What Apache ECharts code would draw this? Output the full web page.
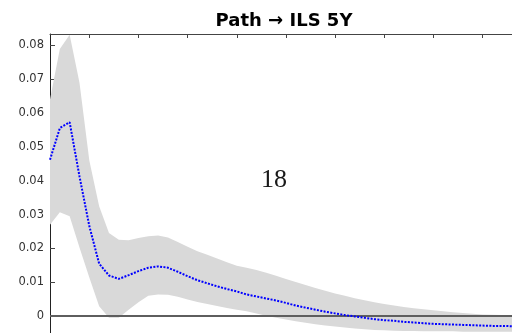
<!DOCTYPE html>
<html>
<head>
<meta charset="utf-8">
<script src="https://cdn.jsdelivr.net/npm/echarts@6/dist/echarts.min.js"></script>
<style>
  html, body { margin: 0; padding: 0; background: #fff; }
  #chart { width: 512px; height: 333px; }
</style>
</head>
<body>
<div id="chart"></div>
<script>
// Impulse response of ILS 5Y to a path shock, with its confidence band
const horizon = [1,2,3,4,5,6,7,8,9,10,11,12,13,14,15,16,17,18,19,20,21,22,23,24,
                 25,26,27,28,29,30,31,32,33,34,35,36,37,38,39,40,41,42,43,44,45,46,47,48];
const response = [0.0462,0.0556,0.0573,0.0413,0.0266,0.0155,0.0120,0.0110,0.0121,0.0133,
                  0.0143,0.0147,0.0143,0.0131,0.0118,0.0106,0.0097,0.0088,0.0080,0.0073,
                  0.0064,0.0058,0.0052,0.0046,0.0039,0.0031,0.0025,0.0019,0.0013,0.0008,
                  0.0003,-0.0001,-0.0005,-0.0009,-0.0012,-0.0014,-0.0017,-0.0019,-0.0021,-0.0023,
                  -0.0024,-0.0025,-0.0026,-0.0027,-0.0028,-0.0029,-0.0029,-0.0030];
const upperBand = [0.064,0.079,0.0832,0.069,0.046,0.0325,0.0246,0.0226,0.0224,0.0231,
                   0.0236,0.0238,0.0232,0.0219,0.0205,0.0192,0.0181,0.0170,0.0159,0.0149,
                   0.0143,0.0136,0.0128,0.0119,0.0110,0.0101,0.0092,0.0083,0.0075,0.0067,
                   0.0060,0.0053,0.0047,0.0041,0.0036,0.0031,0.0027,0.0023,0.0020,0.0017,
                   0.0014,0.0011,0.0009,0.0007,0.0005,0.0004,0.0003,0.0002];
const lowerBand = [0.027,0.0307,0.0295,0.0203,0.0114,0.0029,-0.0005,-0.0005,0.0019,0.0041,
                   0.0060,0.0064,0.0063,0.0057,0.0049,0.0042,0.0036,0.0030,0.0024,0.0019,
                   0.0014,0.0008,0.0001,-0.0005,-0.0010,-0.0015,-0.0020,-0.0024,-0.0028,-0.0031,
                   -0.0034,-0.0037,-0.0039,-0.0041,-0.0042,-0.0043,-0.0044,-0.0044,-0.0045,-0.0045,
                   -0.0045,-0.0045,-0.0046,-0.0046,-0.0046,-0.0046,-0.0046,-0.0046];
const yTicks = [0, 0.01, 0.02, 0.03, 0.04, 0.05, 0.06, 0.07, 0.08];
const xTicks = [5, 10, 15, 20, 25, 30, 35, 40, 45];
const chartTitle = 'Path \u2192 ILS 5Y';
const panelNumber = '18';

const bandPts = horizon.map((h, i) => [h, lowerBand[i], upperBand[i]]);
const respPts = horizon.map((h, i) => [h, response[i]]);

// Shaded band: one polygon going along the upper edge and back along the lower edge
function renderBand(params, api) {
  if (params.dataIndex !== 0) return null;
  const top = horizon.map((h, i) => api.coord([h, upperBand[i]]));
  const bottom = horizon.map((h, i) => api.coord([h, lowerBand[i]])).reverse();
  return {
    type: 'polygon',
    shape: { points: top.concat(bottom) },
    style: { fill: '#d9d9d9', stroke: null }
  };
}

const chart = echarts.init(document.getElementById('chart'), null, { renderer: 'canvas' });
chart.setOption({
  animation: false,
  backgroundColor: '#ffffff',
  graphic: [
    {
      type: 'text', x: 284, y: 12,
      style: {
        text: chartTitle, fontFamily: 'DejaVu Sans', fontWeight: 'bold', fontSize: 18,
        fill: '#000', align: 'center', verticalAlign: 'top'
      }
    },
    {
      type: 'text', x: 274, y: 180,
      style: {
        text: panelNumber, fontFamily: 'Liberation Serif', fontSize: 26,
        fill: '#1a1a1a', align: 'center', verticalAlign: 'middle'
      }
    }
  ],
  grid: { left: 50, top: 34, width: 470, height: 299.6, containLabel: false },
  xAxis: {
    type: 'value', position: 'top', min: 1, max: 48,
    axisLine: { show: true, onZero: false, lineStyle: { color: '#444', width: 1 } },
    axisTick: { show: true, inside: true, length: 4, customValues: xTicks, lineStyle: { color: '#444' } },
    axisLabel: { show: false },
    splitLine: { show: false }
  },
  yAxis: {
    type: 'value', min: -0.005, max: 0.0834,
    axisLine: { show: true, onZero: false, lineStyle: { color: '#222', width: 1 } },
    axisTick: { show: true, inside: true, length: 5, customValues: yTicks, lineStyle: { color: '#444' } },
    axisLabel: {
      customValues: yTicks, margin: 6, color: '#333',
      fontFamily: 'DejaVu Sans', fontSize: 11.5,
      formatter: v => (v === 0 ? '0' : v.toFixed(2))
    },
    splitLine: { show: false }
  },
  series: [
    {
      name: 'band', type: 'custom', data: bandPts, renderItem: renderBand,
      encode: { x: 0, y: [1, 2] }, silent: true, z: 1,
      markLine: {
        silent: true, symbol: 'none', label: { show: false },
        lineStyle: { color: '#5e5e5e', width: 2, type: 'solid' },
        data: [{ yAxis: 0 }]
      }
    },
    {
      name: 'response', type: 'line', data: respPts, symbol: 'none', z: 5,
      lineStyle: { color: '#0000ff', width: 2, type: [2, 1.4], cap: 'butt' }
    }
  ]
});
</script>
</body>
</html>
